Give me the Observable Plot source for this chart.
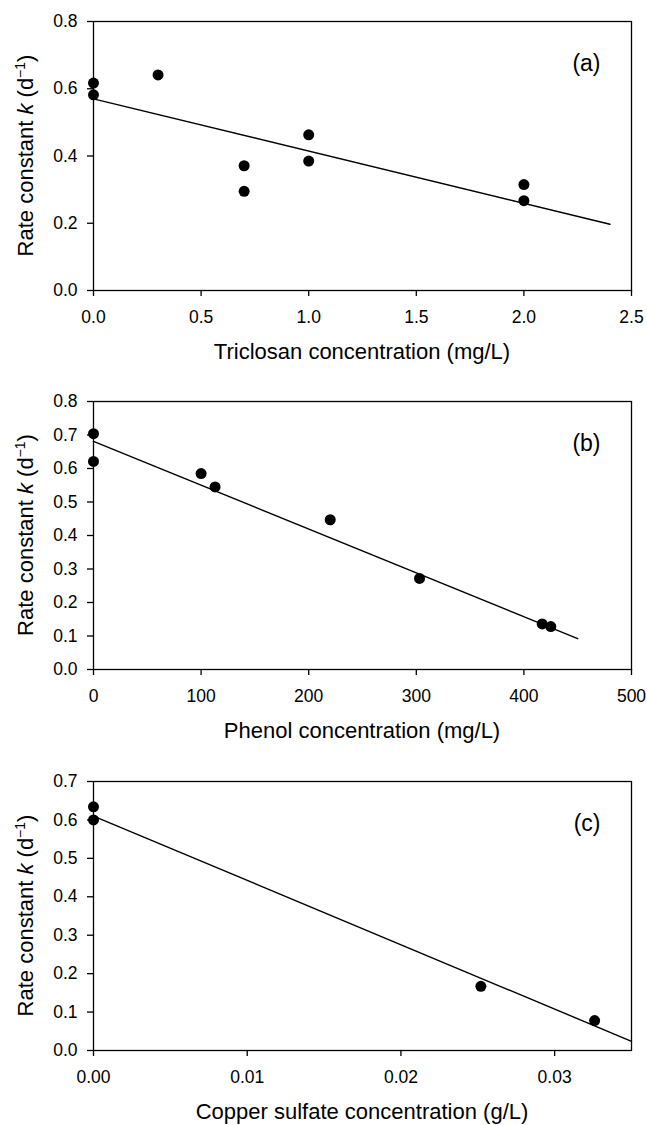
<!DOCTYPE html>
<html><head><meta charset="utf-8">
<script src="https://cdn.jsdelivr.net/npm/d3@7"></script>
<script src="https://cdn.jsdelivr.net/npm/@observablehq/plot@0.6"></script>
<style>
body{margin:0;background:#fff;}
#charts{width:647px;}
#charts svg{display:block;}
</style></head><body><div id="charts"></div>
<script>
// Panel (a) — Triclosan
const triclosanConc = [0, 0, 0.3, 0.7, 0.7, 1.0, 1.0, 2.0, 2.0];
const triclosanK    = [0.617, 0.582, 0.641, 0.371, 0.295, 0.463, 0.385, 0.315, 0.267];
const triclosanFitConc = [0, 2.4];
const triclosanFitK    = [0.570, 0.197];
const triclosanXTicks = [0, 0.5, 1.0, 1.5, 2.0, 2.5];
const triclosanYTicks = [0, 0.2, 0.4, 0.6, 0.8];

// Panel (b) — Phenol
const phenolConc = [0, 0, 100, 113, 220, 303, 417, 425];
const phenolK    = [0.704, 0.621, 0.585, 0.545, 0.447, 0.272, 0.136, 0.128];
const phenolFitConc = [0, 450];
const phenolFitK    = [0.681, 0.092];
const phenolXTicks = [0, 100, 200, 300, 400, 500];
const phenolYTicks = [0, 0.1, 0.2, 0.3, 0.4, 0.5, 0.6, 0.7, 0.8];

// Panel (c) — Copper sulfate
const copperConc = [0, 0, 0.0252, 0.0326];
const copperK    = [0.634, 0.600, 0.167, 0.078];
const copperFitConc = [0, 0.035];
const copperFitK    = [0.610, 0.024];
const copperXTicks = [0, 0.01, 0.02, 0.03];
const copperYTicks = [0, 0.1, 0.2, 0.3, 0.4, 0.5, 0.6, 0.7];

const FONT = "'Liberation Sans', Arial, Helvetica, sans-serif";

function panel(o) {
  const pts = o.x.map((v, i) => ({x: v, k: o.k[i]}));
  const fit = o.fitX.map((v, i) => ({x: v, k: o.fitK[i]}));
  const chart = Plot.plot({
    width: 647, height: o.height,
    marginTop: 21, marginBottom: o.marginBottom, marginLeft: 93, marginRight: 16,
    style: {fontFamily: FONT, fontSize: "17.5px", color: "#000", background: "#fff", overflow: "visible"},
    x: {domain: o.xDomain},
    y: {domain: o.yDomain},
    marks: [
      Plot.frame({stroke: "#000", strokeWidth: 1.3}),
      Plot.axisX({ticks: o.xTicks, tickFormat: o.xFmt, tickSize: 6, tickPadding: 14, strokeWidth: 1.3, label: null, fontSize: 17.5}),
      Plot.axisY({ticks: o.yTicks, tickFormat: o.yFmt, tickSize: 6, tickPadding: 10, strokeWidth: 1.3, label: null, fontSize: 17.5}),
      Plot.line(fit, {x: "x", y: "k", stroke: "#000", strokeWidth: 1.4}),
      Plot.dot(pts, {x: "x", y: "k", r: 5.5, fill: "#000", stroke: "none"}),
      Plot.text([o.tag], {text: d => d, frameAnchor: "top-right", dx: -31, dy: 42, textAnchor: "end", lineAnchor: "middle", fontSize: 23, fill: "#000"})
    ]
  });
  const xr = chart.scale("x").range;
  const yr = chart.scale("y").range;
  const svg = d3.select(chart);
  svg.append("text")
    .attr("x", (xr[0] + xr[1]) / 2)
    .attr("y", yr[0] + 69)
    .attr("text-anchor", "middle")
    .attr("font-family", FONT)
    .attr("font-size", 22)
    .attr("fill", "#000")
    .text(o.xLabel);
  const yl = svg.append("text")
    .attr("transform", `translate(33,${(yr[0] + yr[1]) / 2}) rotate(-90)`)
    .attr("text-anchor", "middle")
    .attr("font-family", FONT)
    .attr("font-size", 22)
    .attr("fill", "#000");
  yl.append("tspan").text("Rate constant ");
  yl.append("tspan").attr("font-style", "italic").text("k");
  yl.append("tspan").text(" (d");
  yl.append("tspan").attr("font-size", 14).attr("dy", -8).text("\u22121");
  yl.append("tspan").attr("dy", 8).text(")");
  return chart;
}

const root = document.getElementById("charts");
root.appendChild(panel({
  x: triclosanConc, k: triclosanK, fitX: triclosanFitConc, fitK: triclosanFitK,
  xDomain: [0, 2.5], yDomain: [0, 0.8], xTicks: triclosanXTicks, yTicks: triclosanYTicks,
  xFmt: d3.format(".1f"), yFmt: d3.format(".1f"),
  xLabel: "Triclosan concentration (mg/L)", tag: "(a)", height: 380, marginBottom: 90
}));
root.appendChild(panel({
  x: phenolConc, k: phenolK, fitX: phenolFitConc, fitK: phenolFitK,
  xDomain: [0, 500], yDomain: [0, 0.8], xTicks: phenolXTicks, yTicks: phenolYTicks,
  xFmt: d3.format("d"), yFmt: d3.format(".1f"),
  xLabel: "Phenol concentration (mg/L)", tag: "(b)", height: 380, marginBottom: 91
}));
root.appendChild(panel({
  x: copperConc, k: copperK, fitX: copperFitConc, fitK: copperFitK,
  xDomain: [0, 0.035], yDomain: [0, 0.7], xTicks: copperXTicks, yTicks: copperYTicks,
  xFmt: d3.format(".2f"), yFmt: d3.format(".1f"),
  xLabel: "Copper sulfate concentration (g/L)", tag: "(c)", height: 365, marginBottom: 75
}));
</script>
</body></html>
